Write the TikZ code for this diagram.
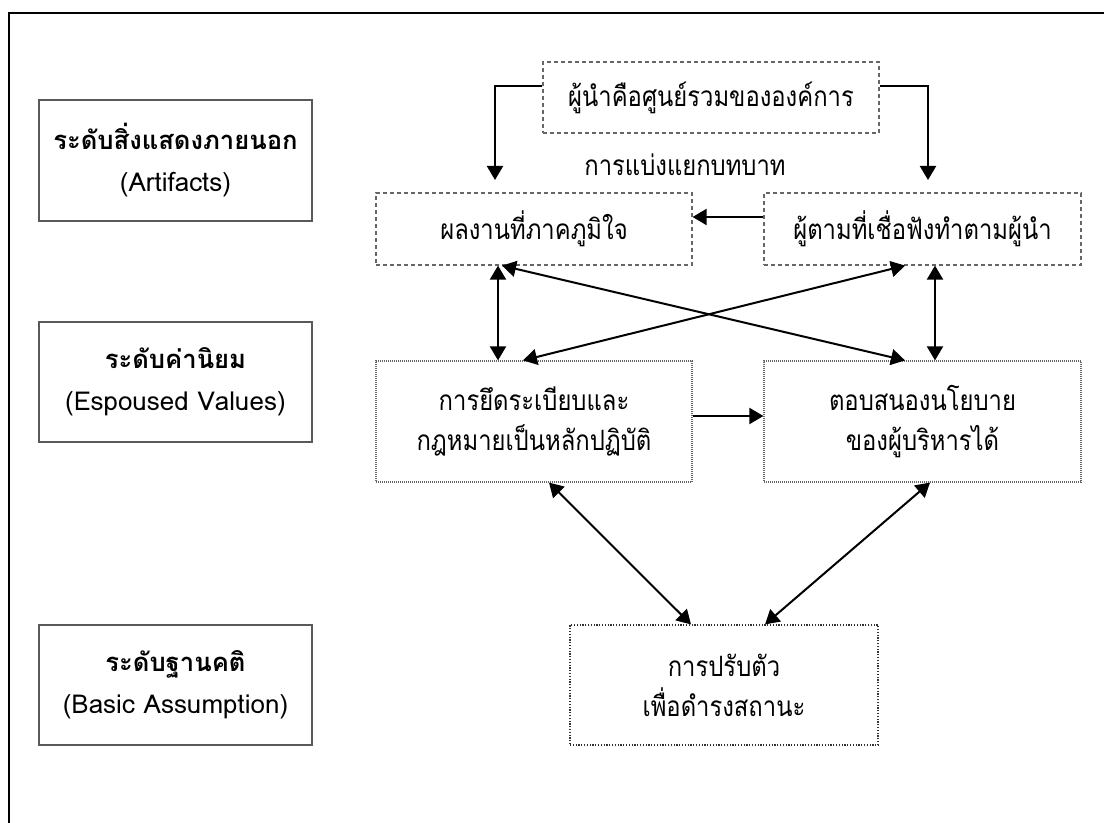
\documentclass[tikz,border=0pt]{standalone}
\usepackage{fontspec}
\newfontfamily\thaifont[Script=Thai]{Loma}
\newfontfamily\thainarrow[Script=Thai,FakeStretch=0.85]{Loma}
\usetikzlibrary{arrows.meta}

\begin{document}
\begin{tikzpicture}[x=0.5pt,y=-0.5pt]
\tikzstyle{level}=[draw=black!65, line width=0.7pt, inner sep=0pt, minimum width=136.5pt, minimum height=60pt, align=center, font=\thaifont\fontsize{13}{21}\selectfont]
\tikzstyle{dashbox}=[draw=black!60, line width=0.6pt, dash pattern=on 2pt off 1.5pt, inner sep=0pt, minimum width=158pt, minimum height=36pt, align=center, font=\thainarrow\fontsize{14}{20}\selectfont]
\tikzstyle{dotbox}=[draw=black!60, line width=0.6pt, dash pattern=on 0.5pt off 0.5pt, inner sep=0pt, minimum width=158pt, minimum height=60.5pt, align=center, font=\thainarrow\fontsize{14}{20}\selectfont]
\tikzstyle{tip}=[line width=1pt, -{Triangle[length=7pt,width=8pt]}]
\tikzstyle{both}=[line width=1pt, {Triangle[length=7pt,width=8pt]}-{Triangle[length=7pt,width=8pt]}]
\newcommand{\lvl}[1]{{\bfseries\fontsize{12.8}{21}\selectfont #1}}
\useasboundingbox (0,0) rectangle (1104,823);
\draw[line width=1pt] (9,823) -- (9,13) -- (1104,13);

% levels on the left
\node[level, minimum height=60.5pt] (art) at (175.5,160.5) {\lvl{ระดับสิ่งแสดงภายนอก}\\(Artifacts)};
\node[level] (esp) at (175.5,382) {\lvl{ระดับค่านิยม}\\(Espoused Values)};
\node[level] (bas) at (175.5,685) {\lvl{ระดับฐานคติ}\\(Basic Assumption)};

% boxes
\node[dashbox, minimum width=168pt, minimum height=35.5pt] (lead) at (711,97.5) {ผู้นำคือศูนย์รวมขององค์การ};
\node[font=\thainarrow\fontsize{14}{20}\selectfont] (role) at (685,165) {การแบ่งแยกบทบาท};
\node[dashbox] (pride) at (534,229) {ผลงานที่ภาคภูมิใจ};
\node[dashbox, minimum width=158.5pt] (follow) at (922.5,229) {ผู้ตามที่เชื่อฟังทำตามผู้นำ};
\node[dotbox] (rule) at (534,421.5) {การยึดระเบียบและ\\กฎหมายเป็นหลักปฏิบัติ};
\node[dotbox, minimum width=158.5pt] (policy) at (922.5,421.5) {ตอบสนองนโยบาย\\ของผู้บริหารได้};
\node[dotbox, draw=black!80, dash pattern=on 0.6pt off 0.8pt, minimum width=154pt, minimum height=60pt] (adapt) at (724,685) {การปรับตัว\\เพื่อดำรงสถานะ};

\coordinate (lt) at (495,180);
\coordinate (rt) at (928,180);

\draw[tip] (lead.west |- 0,86) -| (lt);
\draw[tip] (lead.east |- 0,86) -| (rt);
\draw[tip] (follow.west |- 0,217) -- (pride.east |- 0,217);
\draw[both] (pride.south -| 498,0) -- (rule.north -| 498,0);
\draw[both] (follow.south -| 935,0) -- (policy.north -| 935,0);
\draw[both] (pride.south -| 502,0) -- (policy.north -| 905,0);
\draw[both] (follow.south -| 905,0) -- (rule.north -| 523,0);
\draw[tip] (rule.east |- 0,416) -- (policy.west |- 0,416);
\draw[both] (rule.south -| 549,0) -- (adapt.north -| 691,0);
\draw[both] (policy.south -| 930,0) -- (adapt.north -| 765,0);

\end{tikzpicture}
\end{document}
